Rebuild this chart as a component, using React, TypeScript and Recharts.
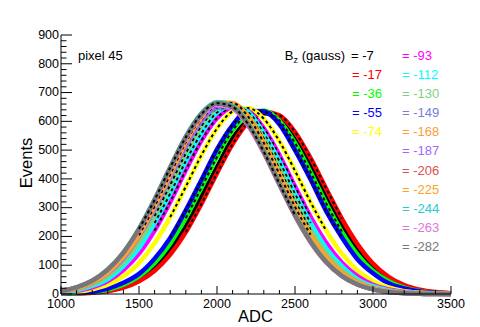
import React from 'react';
import { LineChart, Line, XAxis, YAxis } from 'recharts';

// ADC bin centres (x values)
const ADC = [1000, 1100, 1200, 1300, 1400, 1500, 1600, 1700, 1800, 1900, 2000, 2100, 2200, 2300, 2400, 2500, 2600, 2700, 2800, 2900, 3000, 3100, 3200, 3300, 3400, 3500];

// axis ticks
const X_TICKS = [1000, 1100, 1200, 1300, 1400, 1500, 1600, 1700, 1800, 1900, 2000, 2100, 2200, 2300, 2400, 2500, 2600, 2700, 2800, 2900, 3000, 3100, 3200, 3300, 3400, 3500];
const X_LABELS = [1000, 1500, 2000, 2500, 3000, 3500];
const Y_TICKS = [0, 20, 40, 60, 80, 100, 120, 140, 160, 180, 200, 220, 240, 260, 280, 300, 320, 340, 360, 380, 400, 420, 440, 460, 480, 500, 520, 540, 560, 580, 600, 620, 640, 660, 680, 700, 720, 740, 760, 780, 800, 820, 840, 860, 880, 900];
const Y_LABELS = [0, 100, 200, 300, 400, 500, 600, 700, 800, 900];

// B_z values (gauss) and colours of each histogram
const BZ = [-7, -17, -36, -55, -74, -93, -112, -130, -149, -168, -187, -206, -225, -244, -263, -282];
const COLORS = ['#000000', '#ff0000', '#00ff00', '#0000ff', '#ffff00', '#ff00ff', '#00ffff', '#80d080', '#7b7be0', '#ff9c3c', '#a366ff', '#dd5050', '#ffa326', '#26cccc', '#dd77dd', '#777777'];

// counts per ADC bin, one array per B_z
const EV_M7 = [1, 2, 6, 12, 25, 52, 90, 155, 234, 338, 440, 541, 604, 628, 609, 536, 446, 333, 238, 150, 94, 50, 27, 11, 5, 2];
const EV_M17 = [1, 2, 4, 10, 22, 44, 81, 137, 215, 313, 420, 521, 597, 633, 621, 563, 472, 366, 262, 174, 106, 60, 31, 15, 7, 3];
const EV_M36 = [1, 3, 7, 15, 32, 61, 107, 175, 264, 369, 476, 568, 626, 638, 602, 525, 423, 315, 217, 138, 81, 44, 22, 10, 4, 2];
const EV_M55 = [1, 4, 8, 19, 39, 70, 123, 195, 291, 396, 503, 587, 637, 634, 590, 500, 398, 288, 197, 121, 72, 37, 19, 9, 4, 1];
const EV_M74 = [3, 7, 16, 32, 61, 108, 177, 267, 373, 482, 575, 634, 646, 609, 531, 428, 319, 220, 140, 82, 45, 23, 10, 5, 2, 1];
const EV_M93 = [5, 11, 23, 45, 83, 140, 220, 320, 430, 533, 611, 648, 636, 576, 483, 374, 268, 178, 109, 62, 32, 16, 7, 3, 1, 0];
const EV_M112 = [6, 13, 28, 52, 97, 159, 247, 349, 462, 558, 631, 653, 632, 558, 461, 348, 247, 159, 97, 52, 27, 13, 6, 2, 1, 0];
const EV_M130 = [7, 16, 33, 62, 110, 180, 271, 379, 489, 584, 644, 656, 619, 540, 435, 324, 223, 142, 84, 46, 23, 11, 5, 2, 1, 0];
const EV_M149 = [9, 19, 38, 72, 124, 201, 295, 406, 512, 601, 647, 649, 599, 514, 404, 297, 199, 126, 71, 38, 19, 9, 4, 2, 1, 0];
const EV_M168 = [9, 20, 40, 75, 128, 205, 303, 414, 522, 613, 662, 660, 611, 521, 412, 300, 203, 128, 73, 39, 19, 9, 4, 2, 1, 0];
const EV_M187 = [9, 19, 39, 73, 126, 202, 298, 408, 516, 604, 653, 653, 604, 516, 408, 298, 201, 126, 73, 39, 19, 9, 4, 1, 1, 0];
const EV_M206 = [11, 23, 46, 84, 143, 224, 326, 437, 543, 623, 660, 647, 587, 492, 381, 273, 181, 111, 63, 33, 16, 7, 3, 1, 0, 0];
const EV_M225 = [10, 19, 39, 74, 129, 204, 305, 415, 527, 614, 666, 664, 616, 525, 417, 303, 206, 127, 74, 39, 19, 9, 4, 1, 1, 0];
const EV_M244 = [11, 23, 46, 85, 144, 227, 329, 441, 548, 628, 666, 653, 592, 497, 385, 276, 183, 112, 63, 33, 16, 7, 3, 1, 0, 0];
const EV_M263 = [11, 23, 46, 84, 143, 224, 325, 436, 541, 621, 658, 645, 585, 491, 380, 272, 180, 110, 63, 33, 16, 7, 3, 1, 0, 0];
const EV_M282 = [11, 23, 46, 85, 144, 226, 327, 439, 545, 625, 663, 650, 590, 494, 383, 274, 182, 111, 63, 33, 16, 7, 3, 1, 0, 0];

const COUNTS = [EV_M7, EV_M17, EV_M36, EV_M55, EV_M74, EV_M93, EV_M112, EV_M130, EV_M149, EV_M168, EV_M187, EV_M206, EV_M225, EV_M244, EV_M263, EV_M282];

const FONT = '"Liberation Sans", Arial, Helvetica, sans-serif';

// table for recharts: histogram h_i and fit range f_i (upper part of each peak)
const DATA = ADC.map((adc, j) => {
  const row: Record<string, number | null> = { adc };
  COUNTS.forEach((arr, i) => {
    const max = Math.max(...arr);
    row['h' + i] = arr[j];
    row['f' + i] = arr[j] >= 0.3 * max ? arr[j] : null;
  });
  return row;
});

const BottomTick = (props: any) => {
  const { x, y, payload } = props;
  const major = X_LABELS.includes(payload.value);
  return (
    <g>
      <line x1={x} y1={y} x2={x} y2={y - (major ? 8 : 4)} stroke="#000" strokeWidth={1} />
      {major && (
        <text x={x} y={y + 14} textAnchor="middle" fontSize={12.5} fontFamily={FONT} fill="#000">
          {payload.value}
        </text>
      )}
    </g>
  );
};

const TopTick = (props: any) => {
  const { x, y, payload } = props;
  const major = X_LABELS.includes(payload.value);
  return <line x1={x} y1={y} x2={x} y2={y + (major ? 8 : 4)} stroke="#000" strokeWidth={1} />;
};

const LeftTick = (props: any) => {
  const { x, y, payload } = props;
  const major = Y_LABELS.includes(payload.value);
  return (
    <g>
      <line x1={x} y1={y} x2={x + (major ? 11 : 5.5)} y2={y} stroke="#000" strokeWidth={1} />
      {major && (
        <text x={x - 2} y={y + 3.8} textAnchor="end" fontSize={12.5} fontFamily={FONT} fill="#000">
          {payload.value}
        </text>
      )}
    </g>
  );
};

const RightTick = (props: any) => {
  const { x, y, payload } = props;
  const major = Y_LABELS.includes(payload.value);
  return <line x1={x} y1={y} x2={x - (major ? 11 : 5.5)} y2={y} stroke="#000" strokeWidth={1} />;
};

export default function App() {
  return (
    <div style={{ position: 'absolute', left: 0, top: 0, width: 480, height: 327, background: '#fff' }}>
      <LineChart width={480} height={327} data={DATA} margin={{ top: 35, right: 29, bottom: 0, left: 0 }}>
        <XAxis
          dataKey="adc"
          type="number"
          domain={[1000, 3500]}
          ticks={X_TICKS}
          interval={0}
          height={33}
          tickSize={0}
          tickMargin={0}
          tickLine={false}
          axisLine={{ stroke: '#000' }}
          tick={<BottomTick />}
        />
        <XAxis
          xAxisId="top"
          orientation="top"
          dataKey="adc"
          type="number"
          domain={[1000, 3500]}
          ticks={X_TICKS}
          interval={0}
          height={0}
          tickSize={0}
          tickMargin={0}
          tickLine={false}
          axisLine={{ stroke: '#000' }}
          tick={<TopTick />}
        />
        <YAxis
          type="number"
          domain={[0, 900]}
          ticks={Y_TICKS}
          interval={0}
          width={61}
          tickSize={0}
          tickMargin={0}
          tickLine={false}
          axisLine={{ stroke: '#000' }}
          tick={<LeftTick />}
        />
        <YAxis
          yAxisId="right"
          orientation="right"
          type="number"
          domain={[0, 900]}
          ticks={Y_TICKS}
          interval={0}
          width={0}
          tickSize={0}
          tickMargin={0}
          tickLine={false}
          axisLine={{ stroke: '#000' }}
          tick={<RightTick />}
        />
        {COUNTS.flatMap((_, i) => [
          <Line
            key={'h' + i}
            dataKey={'h' + i}
            type="monotone"
            stroke={COLORS[i]}
            strokeWidth={4.5}
            dot={false}
            activeDot={false}
            isAnimationActive={false}
          />,
          <Line
            key={'f' + i}
            xAxisId="top"
            yAxisId="right"
            dataKey={'f' + i}
            type="monotone"
            stroke="#000"
            strokeWidth={2}
            strokeDasharray="3 3"
            dot={false}
            activeDot={false}
            connectNulls={false}
            isAnimationActive={false}
          />,
        ])}
      </LineChart>
      <svg
        width={480}
        height={327}
        style={{ position: 'absolute', left: 0, top: 0, pointerEvents: 'none' }}
        fontFamily={FONT}
      >
        <text x={78} y={59.5} fontSize={13} fill="#000">pixel 45</text>
        <text x={345} y={59.5} fontSize={13} fill="#000" textAnchor="end">
          B<tspan fontSize={9} dy={3}>z</tspan>
          <tspan dy={-3}> (gauss)</tspan>
        </text>
        {BZ.map((b, i) => {
          let x: number;
          let row: number;
          if (i === 0) {
            x = 351;
            row = 0;
          } else if (i <= 4) {
            x = 352;
            row = i;
          } else {
            x = 402;
            row = i - 5;
          }
          return (
            <text key={b} x={x} y={55 + row * 19.15 + 4.7} fontSize={13} fill={COLORS[i]}>
              {'= ' + b}
            </text>
          );
        })}
        <text x={255.5} y={322} fontSize={16.5} textAnchor="middle" fill="#000">ADC</text>
        <text
          x={0}
          y={0}
          fontSize={16.5}
          textAnchor="middle"
          fill="#000"
          transform="translate(32, 163) rotate(-90)"
        >
          Events
        </text>
      </svg>
    </div>
  );
}
